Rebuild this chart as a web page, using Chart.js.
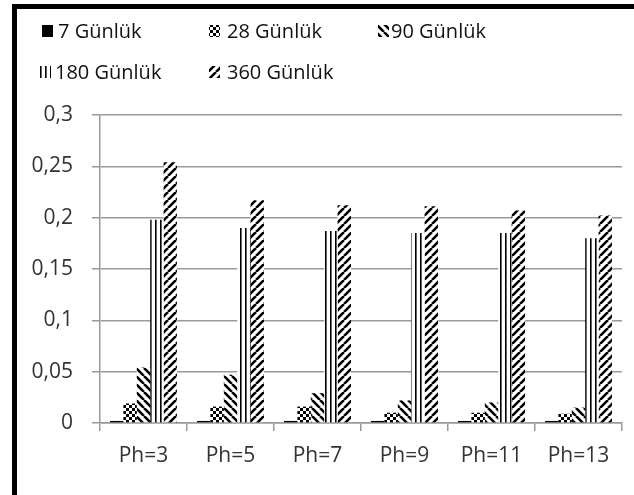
<!DOCTYPE html>
<html>
<head>
<meta charset="utf-8">
<script src="https://cdn.jsdelivr.net/npm/chart.js@4/dist/chart.umd.min.js"></script>
<style>
  html, body { margin: 0; padding: 0; background: #fff; }
  #wrap { position: relative; width: 634px; height: 495px; overflow: hidden; }
  #chart { position: absolute; left: 0; top: 0; }
  #frame {
    position: absolute; left: 12px; top: 4px; width: 640px; height: 520px;
    border-top: 5px solid #000; border-left: 5px solid #000; pointer-events: none;
  }
</style>
</head>
<body>
<div id="wrap">
  <canvas id="chart" width="634" height="495"></canvas>
  <div id="frame"></div>
</div>
<script>
const categories = ['Ph=3', 'Ph=5', 'Ph=7', 'Ph=9', 'Ph=11', 'Ph=13'];
const seriesNames = ['7 Günlük', '28 Günlük', '90 Günlük', '180 Günlük', '360 Günlük'];
const day7 = [0.002, 0.002, 0.002, 0.002, 0.002, 0.002];
const day28 = [0.019, 0.016, 0.016, 0.010, 0.010, 0.009];
const day90 = [0.054, 0.047, 0.029, 0.022, 0.020, 0.015];
const day180 = [0.198, 0.190, 0.187, 0.185, 0.185, 0.180];
const day360 = [0.254, 0.217, 0.212, 0.211, 0.207, 0.202];
const yTickLabels = ['0', '0,05', '0,1', '0,15', '0,2', '0,25', '0,3'];

const ctx = document.getElementById('chart').getContext('2d');

// build the fill patterns used by the bars and the legend
function makePattern(w, h, draw) {
  const c = document.createElement('canvas');
  c.width = w;
  c.height = h;
  const g = c.getContext('2d');
  g.fillStyle = '#fff';
  g.fillRect(0, 0, w, h);
  g.fillStyle = '#000';
  g.strokeStyle = '#000';
  draw(g, w, h);
  return ctx.createPattern(c, 'repeat');
}

const solid = '#000';
const checker = makePattern(6, 6, (g) => {
  g.fillRect(0, 0, 3, 3);
  g.fillRect(3, 3, 3, 3);
});
const backSlash = makePattern(8, 8, (g) => {
  g.lineWidth = 2.6;
  for (const k of [-8, 0, 8]) {
    g.beginPath();
    g.moveTo(k, 0);
    g.lineTo(k + 8, 8);
    g.stroke();
  }
});
const vertical = makePattern(5, 4, (g) => {
  g.fillRect(0, 0, 1.6, 4);
});
const slash = makePattern(8, 8, (g) => {
  g.lineWidth = 2.6;
  for (const k of [-8, 0, 8]) {
    g.beginPath();
    g.moveTo(k, 8);
    g.lineTo(k + 8, 0);
    g.stroke();
  }
});

const fills = [solid, checker, backSlash, vertical, slash];
const values = [day7, day28, day90, day180, day360];

const font = 'Open Sans';

// legend drawn at fixed spots, as in the original
const legendPlugin = {
  id: 'fixedLegend',
  afterDraw(chart) {
    const c = chart.ctx;
    // [swatch x, text x, row y]
    const spots = [[42, 58, 31], [209, 227, 31], [378, 391, 31], [40, 55, 72], [209, 227, 72]];
    c.save();
    c.font = '20px "' + font + '"';
    c.textBaseline = 'middle';
    chart.data.datasets.forEach((ds, i) => {
      const [sx, tx, y] = spots[i];
      c.fillStyle = ds.backgroundColor;
      c.fillRect(sx, y - 6, 11, 12);
      c.fillStyle = '#111';
      c.fillText(ds.label, tx, y + 1);
    });
    c.restore();
  }
};

new Chart(ctx, {
  type: 'bar',
  data: {
    labels: categories,
    datasets: seriesNames.map((name, i) => ({
      label: name,
      data: values[i],
      backgroundColor: fills[i],
      borderWidth: 0,
      categoryPercentage: 0.77,
      barPercentage: 1.0,
    })),
  },
  options: {
    responsive: false,
    animation: false,
    layout: { padding: { top: 115, right: 12, left: 0, bottom: 0 } },
    plugins: {
      legend: { display: false },
      tooltip: { enabled: false },
    },
    scales: {
      x: {
        afterFit: (scale) => { scale.height = 72; },
        grid: {
          drawOnChartArea: false,
          color: '#999',
          lineWidth: 1.5,
          tickLength: 8,
        },
        border: { color: '#999', width: 1.5 },
        ticks: {
          color: '#333',
          font: { family: font, size: 21 },
          padding: 12,
          maxRotation: 0,
        },
      },
      y: {
        min: 0,
        max: 0.3,
        afterFit: (scale) => { scale.width = 100; },
        grid: {
          color: '#999',
          lineWidth: 1.5,
          tickLength: 8,
        },
        border: { color: '#999', width: 1.5 },
        ticks: {
          stepSize: 0.05,
          color: '#333',
          font: { family: font, size: 21 },
          padding: 19,
          callback: (v, i) => yTickLabels[i],
        },
      },
    },
  },
  plugins: [legendPlugin],
});
</script>
</body>
</html>
